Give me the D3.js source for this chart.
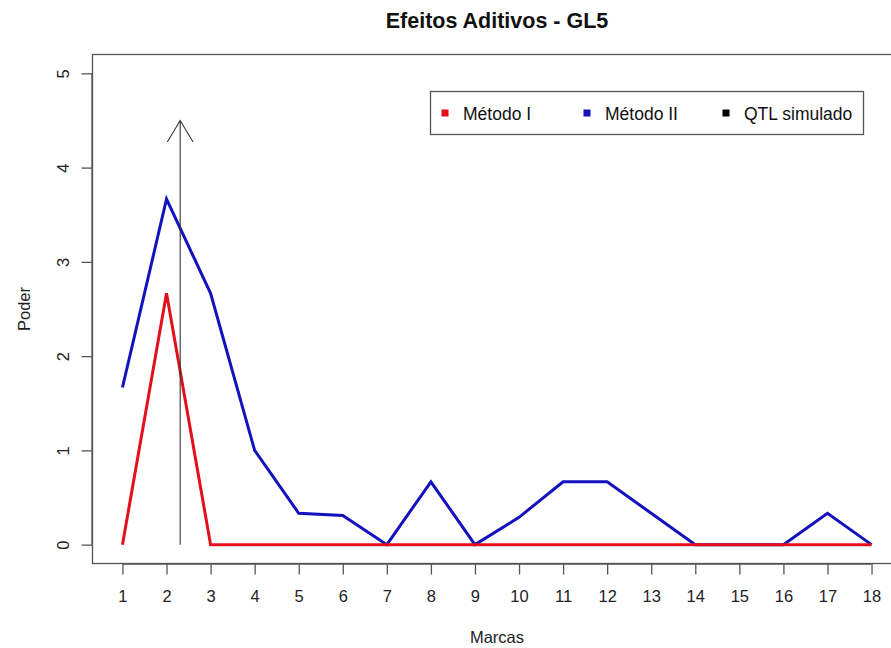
<!DOCTYPE html>
<html>
<head>
<meta charset="utf-8">
<script src="https://cdn.jsdelivr.net/npm/d3@7"></script>
<style>
  html, body { margin: 0; padding: 0; background: #fff; }
  text { font-family: "Liberation Sans", Arial, Helvetica, sans-serif; }
</style>
</head>
<body>
<svg id="chart" width="891" height="648"></svg>
<script>
// Markers along the linkage group
const marcas = d3.range(1, 19);
// Power per marker, method I and method II
const metodoI  = [0, 2.667, 0, 0, 0, 0, 0, 0, 0, 0, 0, 0, 0, 0, 0, 0, 0, 0];
const metodoII = [1.667, 3.667, 2.667, 1.0, 0.333, 0.31, 0, 0.667, 0, 0.29, 0.667, 0.667, 0.333, 0, 0, 0, 0.333, 0];
// Simulated QTL position (in marker units) and arrow height
const qtlPos = 2.31;
const qtlTop = 4.5;
const yTicks = [0, 1, 2, 3, 4, 5];
const legendItems = [
  { label: "Método I", color: "#e3101c" },
  { label: "Método II", color: "#1212bf" },
  { label: "QTL simulado", color: "#000000" }
];

const svg = d3.select("#chart");
const plotLeft = 92.5, plotRight = 901.5, plotTop = 54.5, plotBottom = 563.5;

// Axis ranges padded by 4% as in classic R plots
const x = d3.scaleLinear().domain([1 - 0.68, 18 + 0.68]).range([plotLeft, plotRight]);
const y = d3.scaleLinear().domain([-0.2, 5.2]).range([plotBottom, plotTop]);

const axisColor = "#555";
const fontFam = "'Liberation Sans', Arial, sans-serif";
const fs = 16.5;

// Plot frame
svg.append("rect")
  .attr("x", plotLeft).attr("y", plotTop)
  .attr("width", plotRight - plotLeft).attr("height", plotBottom - plotTop)
  .attr("fill", "none").attr("stroke", axisColor).attr("stroke-width", 1.3);

// X axis
const xAxis = svg.append("g")
  .attr("transform", `translate(0,${plotBottom})`)
  .call(d3.axisBottom(x).tickValues(marcas).tickSize(11).tickPadding(16).tickFormat(d3.format("d")));
xAxis.select(".domain").attr("d", `M${x(1)},0.5H${x(18)}`).attr("stroke", axisColor).attr("stroke-width", 1.3);
xAxis.selectAll(".tick line").attr("stroke", axisColor).attr("stroke-width", 1.3);
xAxis.selectAll(".tick text").attr("font-size", fs).attr("fill", "#222").attr("font-family", fontFam);

// Y axis (labels rotated, as R draws them by default)
const yAxis = svg.append("g")
  .attr("transform", `translate(${plotLeft},0)`)
  .call(d3.axisLeft(y).tickValues(yTicks).tickSize(11).tickFormat(d3.format("d")));
yAxis.select(".domain").attr("d", `M-0.5,${y(0)}V${y(5)}`).attr("stroke", axisColor).attr("stroke-width", 1.3);
yAxis.selectAll(".tick line").attr("stroke", axisColor).attr("stroke-width", 1.3);
yAxis.selectAll(".tick text")
  .attr("font-size", fs).attr("fill", "#222").attr("font-family", fontFam)
  .attr("text-anchor", "middle")
  .attr("x", 0).attr("y", -24).attr("dy", 0)
  .attr("transform", "rotate(-90)");

// Series lines
const line = d3.line().x((d, i) => x(marcas[i])).y(d => y(d));
svg.append("path").datum(metodoII)
  .attr("d", line).attr("fill", "none")
  .attr("stroke", legendItems[1].color).attr("stroke-width", 3).attr("stroke-linejoin", "miter");
svg.append("path").datum(metodoI)
  .attr("d", line).attr("fill", "none")
  .attr("stroke", legendItems[0].color).attr("stroke-width", 3).attr("stroke-linejoin", "miter");

// QTL arrow
const ax = x(qtlPos), ay0 = y(0), ay1 = y(qtlTop);
const headLen = 25, headAng = 31 * Math.PI / 180;
svg.append("path")
  .attr("d", `M${ax},${ay0}V${ay1}` +
    `M${ax - headLen * Math.sin(headAng)},${ay1 + headLen * Math.cos(headAng)}L${ax},${ay1}` +
    `L${ax + headLen * Math.sin(headAng)},${ay1 + headLen * Math.cos(headAng)}`)
  .attr("fill", "none").attr("stroke", "#333").attr("stroke-width", 1.1);

// Title and axis labels
svg.append("text").attr("x", (plotLeft + plotRight) / 2).attr("y", 28)
  .attr("text-anchor", "middle").attr("font-size", 21.5).attr("font-weight", "bold")
  .attr("fill", "#111").text("Efeitos Aditivos - GL5");
svg.append("text").attr("x", (plotLeft + plotRight) / 2).attr("y", 643)
  .attr("text-anchor", "middle").attr("font-size", fs).attr("fill", "#222").text("Marcas");
svg.append("text").attr("transform", `translate(30,${(plotTop + plotBottom) / 2}) rotate(-90)`)
  .attr("text-anchor", "middle").attr("font-size", fs).attr("fill", "#222").text("Poder");

// Legend
const lg = svg.append("g");
lg.append("rect").attr("x", 430.5).attr("y", 91.5).attr("width", 433).attr("height", 43)
  .attr("fill", "#fff").attr("stroke", axisColor).attr("stroke-width", 1.3);
const legendX = [445, 587, 726];
legendItems.forEach((item, i) => {
  lg.append("rect").attr("x", legendX[i] - 3.5).attr("y", 109.5).attr("width", 7).attr("height", 7)
    .attr("fill", item.color);
  lg.append("text").attr("x", legendX[i] + 18).attr("y", 119.5)
    .attr("font-size", 17.5).attr("fill", "#111").text(item.label);
});
</script>
</body>
</html>
